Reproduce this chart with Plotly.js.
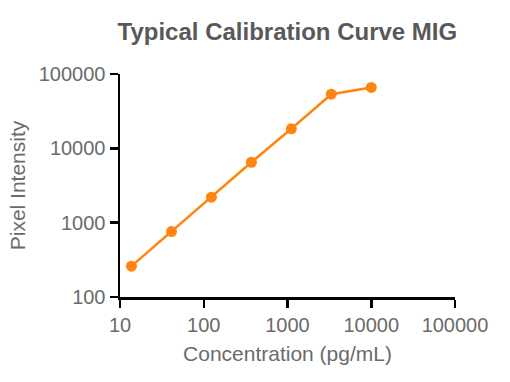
<!DOCTYPE html>
<html>
<head>
<meta charset="utf-8">
<script src="https://cdn.plot.ly/plotly-3.0.1.min.js"></script>
<style>html,body{margin:0;padding:0;background:#fff}#chart{width:510px;height:382px}</style>
</head>
<body>
<div id="chart"></div>
<script>
const concentration = [13.7, 41.2, 123.5, 370.4, 1111, 3333, 10000];
const intensity = [260, 760, 2200, 6500, 18300, 53500, 66000];
const xTickVals = [10, 100, 1000, 10000, 100000];
const xTickText = ['10', '100', '1000', '10000', '100000'];
const yTickVals = [100, 1000, 10000, 100000];
const yTickText = ['100', '1000', '10000', '100000'];

const FONT = 'Liberation Sans, Arial, Helvetica, sans-serif';

const trace = {
  x: concentration,
  y: intensity,
  type: 'scatter',
  mode: 'lines+markers',
  line: {color: '#FF8510', width: 2.5},
  marker: {color: '#FF8510', size: 11},
  hoverinfo: 'none'
};

const axisCommon = {
  type: 'log',
  showgrid: false,
  zeroline: false,
  showline: true,
  linecolor: '#000',
  linewidth: 2.5,
  ticks: 'outside',
  ticklen: 8,
  tickwidth: 2.5,
  tickcolor: '#000',
  tickfont: {family: FONT, size: 20, color: '#6b6b6b'},
  tickmode: 'array'
};

const layout = {
  width: 510,
  height: 382,
  margin: {l: 120, r: 55, t: 74, b: 85},
  paper_bgcolor: '#fff',
  plot_bgcolor: '#fff',
  showlegend: false,
  font: {family: FONT},
  title: {
    text: '<b>Typical Calibration Curve MIG</b>',
    font: {family: FONT, size: 24, color: '#595959'},
    x: 0.5635, xanchor: 'center', y: 0.917, yanchor: 'middle'
  },
  xaxis: Object.assign({}, axisCommon, {
    range: [1, 5],
    tickvals: xTickVals,
    ticktext: xTickText,
    title: {text: 'Concentration (pg/mL)', font: {family: FONT, size: 21, color: '#6b6b6b'}, standoff: 12}
  }),
  yaxis: Object.assign({}, axisCommon, {
    range: [2, 5],
    tickvals: yTickVals,
    ticktext: yTickText,
    title: {text: 'Pixel Intensity', font: {family: FONT, size: 21, color: '#6b6b6b'}, standoff: 8}
  })
};

Plotly.newPlot('chart', [trace], layout, {displayModeBar: false, staticPlot: true});
</script>
</body>
</html>
